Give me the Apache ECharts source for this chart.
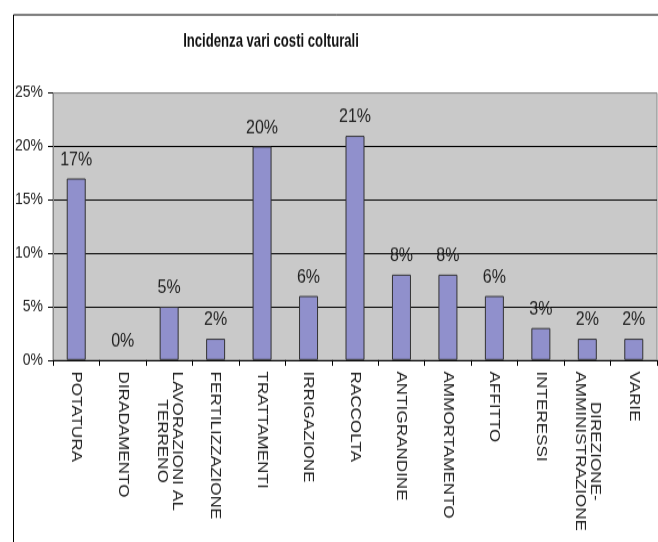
<!DOCTYPE html>
<html>
<head>
<meta charset="utf-8">
<script src="https://cdn.jsdelivr.net/npm/echarts@6/dist/echarts.min.js"></script>
<style>
  html, body { margin: 0; padding: 0; background: #fff; width: 658px; height: 542px; overflow: hidden; }
  #wrap { position: relative; width: 658px; height: 542px; overflow: visible; }
  #chart { position: absolute; left: 0; top: 0; width: 658px; height: 475px; transform: scaleY(1.14); transform-origin: 0 0; }
</style>
</head>
<body>
<div id="wrap"><div id="chart"></div></div>
<script>
const titleText = 'Incidenza vari costi colturali';
const categories = ['POTATURA', 'DIRADAMENTO', 'LAVORAZIONI AL\nTERRENO', 'FERTILIZZAZIONE', 'TRATTAMENTI', 'IRRIGAZIONE', 'RACCOLTA', 'ANTIGRANDINE', 'AMMORTAMENTO', 'AFFITTO', 'INTERESSI', 'DIREZIONE-\nAMMINISTRAZIONE', 'VARIE'];
const values = [17, 0, 5, 2, 20, 6, 21, 8, 8, 6, 3, 2, 2];
const yMin = 0, yMax = 25, yStep = 5;

const chart = echarts.init(document.getElementById('chart'), null, { renderer: 'canvas' });
const font = 'Arial, "Liberation Sans", sans-serif';
chart.setOption({
  animation: false,
  backgroundColor: '#fff',
  graphic: [{
    type: 'rect', left: 11, top: 10.5, z: -1, silent: true,
    shape: { width: 700, height: 600 },
    style: { fill: 'none', stroke: '#000', lineWidth: 1 }
  }, {
    type: 'text', x: 271, y: 37, scaleX: 0.82, silent: true,
    style: {
      text: titleText, fontFamily: font, fontWeight: 'bold', fontSize: 16, fill: '#111',
      textAlign: 'center', textVerticalAlign: 'middle'
    }
  }],
  grid: {
    left: 53, right: 1, top: 81.6, bottom: 159.2,
    show: true, backgroundColor: '#c9c9c9', borderColor: '#888', borderWidth: 1
  },
  xAxis: {
    type: 'category',
    data: categories,
    axisLine: { show: true, lineStyle: { color: '#000', width: 1 } },
    axisTick: { show: true, length: 5, alignWithLabel: false, lineStyle: { color: '#000' } },
    axisLabel: {
      interval: 0, rotate: -90, margin: 10,
      fontFamily: font, fontSize: 15, color: '#222',
      formatter: v => v.split('\n').map(s => '{c|' + s + '}').join('\n'),
      rich: { c: { align: 'center', fontFamily: font, fontSize: 15, color: '#222', lineHeight: 15 } }
    },
    splitLine: { show: false }
  },
  yAxis: {
    type: 'value', min: yMin, max: yMax, interval: yStep,
    axisLine: { show: true, lineStyle: { color: '#888', width: 1 } },
    axisTick: { show: true, length: 5, lineStyle: { color: '#000' } },
    axisLabel: { formatter: '{value}%', fontFamily: font, fontSize: 14, color: '#222', margin: 10 },
    splitLine: { show: true, lineStyle: { color: ['#000', '#000', '#000', '#000', '#000', '#888'], width: 1 } }
  },
  series: [{
    type: 'bar',
    data: values.map(v => v === 0 ? { value: v, itemStyle: { borderWidth: 0, opacity: 0 } } : v),
    barWidth: 19,
    itemStyle: { color: '#9090cc', borderColor: '#333', borderWidth: 1 },
    label: { show: true, position: 'top', distance: 8, formatter: '{c}%', fontFamily: font, fontSize: 16, color: '#222', opacity: 1 }
  }]
});
</script>
</body>
</html>
